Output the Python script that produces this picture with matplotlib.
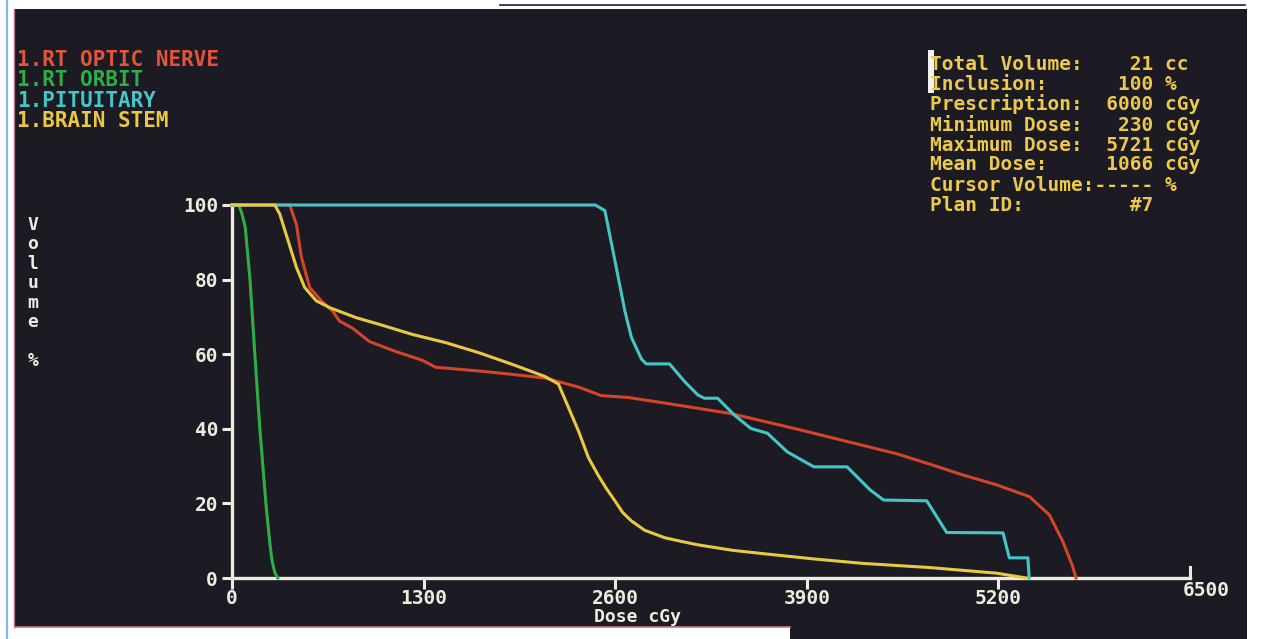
import matplotlib
matplotlib.use("Agg")
import matplotlib.pyplot as plt
from matplotlib.patches import Rectangle
from matplotlib.lines import Line2D

# ---- dose-volume histogram data (dose in cGy, volume in %) ----
structures = ["1.RT OPTIC NERVE", "1.RT ORBIT", "1.PITUITARY", "1.BRAIN STEM"]

optic_dose = [0, 392, 437, 471, 527, 606, 682, 729, 817, 932, 1112, 1290, 1382,
              1675, 1898, 2125, 2350, 2505, 2688, 2936, 3383, 3836, 4286, 4511,
              4736, 4961, 5186, 5411, 5546, 5637, 5700, 5727]
optic_vol = [100, 100, 94.8, 86.0, 77.9, 74.3, 71.6, 68.9, 67.0, 63.4, 60.7, 58.4, 56.5,
             55.5, 54.6, 53.6, 51.2, 48.9, 48.4, 46.9, 44.1, 39.9, 35.5, 33.3,
             30.5, 27.6, 25.0, 21.8, 16.9, 9.8, 3.5, 0]

orbit_dose = [0, 45, 65, 90, 122, 155, 189, 230, 255, 270, 290, 311]
orbit_vol = [100, 100, 98, 94, 80, 60, 40, 20, 10, 5, 1.5, 0]

pituitary_dose = [0, 2465, 2530, 2598, 2665, 2710, 2778, 2811, 2969, 3070, 3160, 3205,
                  3295, 3408, 3520, 3633, 3768, 3948, 4173, 4330, 4421, 4714, 4849,
                  5231, 5274, 5400, 5409]
pituitary_vol = [100, 100, 98.5, 85.1, 71.7, 64.5, 58.7, 57.4, 57.4, 52.7, 49.1, 48.2,
                 48.2, 43.7, 40.1, 38.8, 33.8, 29.8, 29.8, 23.6, 20.9, 20.7, 12.2,
                 12.1, 5.4, 5.4, 0]

brainstem_dose = [0, 290, 324, 380, 437, 493, 572, 662, 842, 999, 1224, 1450, 1675,
                  1900, 2125, 2215, 2283, 2350, 2418, 2485, 2540, 2598, 2650, 2710,
                  2800, 2936, 3050, 3160, 3400, 3611, 3950, 4286, 4734, 5186, 5389]
brainstem_vol = [100, 100, 97.6, 90.5, 83.3, 77.9, 74.3, 72.5, 69.8, 68.0, 65.3, 63.1, 60.4,
                 57.3, 54.0, 52.0, 45.7, 39.5, 32.3, 27.5, 24.0, 20.7, 17.6, 15.3,
                 12.8, 10.8, 9.8, 8.9, 7.4, 6.5, 5.1, 3.9, 2.8, 1.3, 0]

x_ticks = [0, 1300, 2600, 3900, 5200]
x_end = 6500
y_ticks = [0, 20, 40, 60, 80, 100]

stats = [("Total Volume:", "21", "cc"),
         ("Inclusion:", "100", "%"),
         ("Prescription:", "6000", "cGy"),
         ("Minimum Dose:", "230", "cGy"),
         ("Maximum Dose:", "5721", "cGy"),
         ("Mean Dose:", "1066", "cGy"),
         ("Cursor Volume:", "-----", "%"),
         ("Plan ID:", "#7", "")]

# ---- styling ----
BG = "#1c1a22"
AXIS = "#f0ebdf"
C_RED = "#d2442c"
C_GREEN = "#2fae46"
C_CYAN = "#44c6c8"
C_YELLOW = "#e9c843"
TXT_RED = "#e2553c"
TXT_YELLOW = "#ecc94a"
FONT = "DejaVu Sans Mono"
FS = 14

W, H = 1261, 639
fig = plt.figure(figsize=(W / 100, H / 100), dpi=100, facecolor="white")


def fx(px):
    return px / W


def fy(py):
    return 1 - py / H


# screen area and frame edges
fig.add_artist(Rectangle((fx(15), fy(627)), fx(1247 - 15), (627 - 9) / H,
                         transform=fig.transFigure, facecolor=BG, edgecolor="none", zorder=0))
fig.add_artist(Rectangle((fx(790), 0), fx(1247 - 790), 40 / H,
                         transform=fig.transFigure, facecolor=BG, edgecolor="none", zorder=0))
fig.add_artist(Line2D([fx(7), fx(7)], [0, 1], transform=fig.transFigure,
                      color="#8ab6e2", lw=1.6, zorder=1))
fig.add_artist(Line2D([fx(14), fx(14)], [fy(627), fy(9)], transform=fig.transFigure,
                      color="#b86a80", lw=1.0, zorder=1))
fig.add_artist(Line2D([fx(15), fx(790)], [fy(627), fy(627)], transform=fig.transFigure,
                      color="#c27a8c", lw=1.2, zorder=1))
fig.add_artist(Line2D([fx(500), fx(1245)], [fy(5), fy(5)], transform=fig.transFigure,
                      color="#222028", lw=1.2, zorder=1))

# plot area
ax = fig.add_axes([fx(232), fy(578), fx(1190 - 232), (578 - 205) / H])
ax.set_facecolor("none")
ax.set_zorder(2)
ax.set_xlim(0, x_end)
ax.set_ylim(0, 100)

for d, v, c in [(optic_dose, optic_vol, C_RED),
                (orbit_dose, orbit_vol, C_GREEN),
                (pituitary_dose, pituitary_vol, C_CYAN),
                (brainstem_dose, brainstem_vol, C_YELLOW)]:
    ax.plot(d, v, color=c, lw=2.2, clip_on=False, solid_joinstyle="round")

for s in ["top", "right"]:
    ax.spines[s].set_visible(False)
for s in ["left", "bottom"]:
    ax.spines[s].set_color(AXIS)
    ax.spines[s].set_linewidth(2.4)
    ax.spines[s].set_zorder(1)

ax.set_xticks(x_ticks)
ax.set_xticklabels([str(t) for t in x_ticks])
ax.set_yticks(y_ticks)
ax.set_yticklabels([str(t) for t in y_ticks])
ax.tick_params(axis="x", direction="out", length=8, width=2.2, color=AXIS,
               labelcolor=AXIS, pad=0)
ax.tick_params(axis="y", direction="out", length=7, width=2.2, color=AXIS,
               labelcolor=AXIS, pad=3)
for lab in ax.get_xticklabels() + ax.get_yticklabels():
    lab.set_fontfamily(FONT)
    lab.set_fontweight("bold")
    lab.set_fontsize(FS)

# end-of-axis marker and its label
ax.axvline(x_end, ymin=0, ymax=0.03, color=AXIS, lw=2.2, clip_on=False)
ax.annotate(str(x_end), xy=(x_end, 0), xytext=(12, -9), textcoords="offset points",
            ha="center", va="center", color=AXIS, fontfamily=FONT,
            fontweight="bold", fontsize=FS, annotation_clip=False)

fig.text(fx(638), fy(617), "Dose cGy", ha="center", va="center",
         color=AXIS, fontfamily=FONT, fontweight="bold", fontsize=FS - 1)

# stacked vertical axis title
fig.text(fx(33), fy(216), "V\no\nl\nu\nm\ne\n\n%", ha="center", va="top",
         color=AXIS, fontfamily=FONT, fontweight="bold", fontsize=FS - 1,
         linespacing=1.1)

# structure list
legend_colors = [TXT_RED, C_GREEN, C_CYAN, C_YELLOW]
for i, (name, col) in enumerate(zip(structures, legend_colors)):
    fig.text(fx(17), fy(60 + i * 20.3), name, ha="left", va="center",
             color=col, fontfamily=FONT, fontweight="bold", fontsize=FS + 1)

# dose statistics panel
for i, (label, value, unit) in enumerate(stats):
    if value == "-----":
        line = f"{label}{value} {unit}"
    else:
        line = f"{label:<15}{value:>4} {unit}".rstrip()
    fig.text(fx(930), fy(64 + i * 20.2), line, ha="left", va="center",
             color=TXT_YELLOW, fontfamily=FONT, fontweight="bold", fontsize=FS)

# text cursor block
fig.add_artist(Rectangle((fx(928), fy(93)), fx(6), 43 / H, transform=fig.transFigure,
                         facecolor="#f4f2ee", edgecolor="none", zorder=3))

fig.savefig("out.png", dpi=100, facecolor=fig.get_facecolor())
